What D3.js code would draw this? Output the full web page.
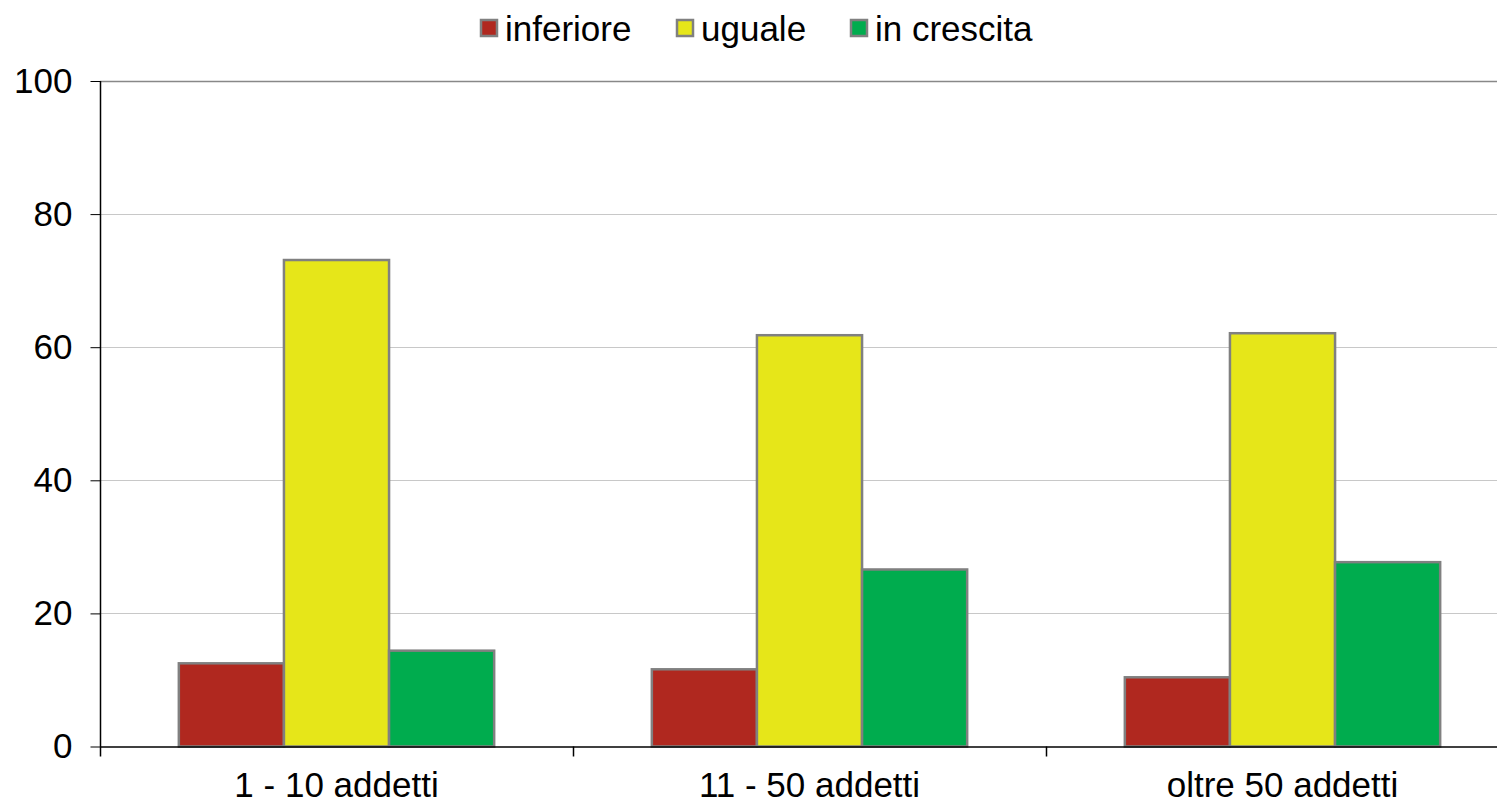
<!DOCTYPE html>
<html>
<head>
<meta charset="utf-8">
<script src="https://cdn.jsdelivr.net/npm/d3@7"></script>
<style>
  body{margin:0;background:#fff;}
  text{font-family:"Liberation Sans",Arial,sans-serif;}
</style>
</head>
<body>
<script>
const categorie=["1 - 10 addetti","11 - 50 addetti","oltre 50 addetti"];
const serie=["inferiore","uguale","in crescita"];
const inferiore=[12.5,11.6,10.4];
const uguale=[73.1,61.8,62.1];
const crescita=[14.4,26.6,27.7];
const yTicks=[0,20,40,60,80,100];
const colori=["#b0281f","#e6e619","#00ac4e"];

const valori=[inferiore,uguale,crescita];
const width=1497,height=803;
const margin={top:81,left:100,bottom:56};
const plotW=1419; // la terza categoria esce dal bordo destro
const fs=35;
const svg=d3.select("body").append("svg").attr("width",width).attr("height",height);

const x=d3.scaleBand().domain(categorie).range([margin.left,margin.left+plotW]).paddingInner(0).paddingOuter(0);
const x1=d3.scaleBand().domain(serie).range([0,x.bandwidth()]).paddingOuter(0.75);
const y=d3.scaleLinear().domain([0,100]).range([height-margin.bottom-0.5,margin.top]);

// griglia
svg.append("g").selectAll("line").data(yTicks.filter(d=>d>0)).enter().append("line")
  .attr("x1",margin.left).attr("x2",width)
  .attr("y1",d=>Math.round(y(d))+0.5).attr("y2",d=>Math.round(y(d))+0.5)
  .attr("stroke",d=>d==100?"#888":"#c8c8c8").attr("stroke-width",d=>d==100?1.5:1);

// barre
const g=svg.append("g").selectAll("g").data(categorie).enter().append("g")
  .attr("transform",d=>`translate(${x(d)},0)`);
g.selectAll("rect").data((d,i)=>serie.map((s,j)=>({s:s,v:valori[j][i],c:colori[j]}))).enter().append("rect")
  .attr("x",d=>x1(d.s)).attr("width",x1.bandwidth())
  .attr("y",d=>y(d.v)).attr("height",d=>y(0)-y(d.v))
  .attr("fill",d=>d.c).attr("stroke","#808080").attr("stroke-width",2.5);

// asse y
const yAxis=svg.append("g").attr("transform",`translate(${margin.left+0.5},0)`)
  .call(d3.axisLeft(y).tickValues(yTicks).tickSize(10).tickPadding(18));
yAxis.select(".domain").attr("d",`M0,${y(100)}V${y(0)+10}`).attr("stroke","#000").attr("stroke-width",1.5);
yAxis.selectAll(".tick line").attr("stroke","#000");
yAxis.selectAll("text").attr("font-size",fs).attr("fill","#000").style("font-family","'Liberation Sans',Arial,sans-serif");

// asse x
const xAxis=svg.append("g").attr("transform",`translate(0,${y(0)})`)
  .call(d3.axisBottom(x).tickSize(0).tickPadding(24));
xAxis.select(".domain").attr("stroke","#000").attr("stroke-width",1.5);
xAxis.selectAll("text").attr("font-size",fs).attr("fill","#000").attr("dy","0.75em").style("font-family","'Liberation Sans',Arial,sans-serif");
svg.append("g").selectAll("line").data(categorie.slice(1)).enter().append("line")
  .attr("x1",d=>x(d)+0.5).attr("x2",d=>x(d)+0.5).attr("y1",y(0)).attr("y2",y(0)+10)
  .attr("stroke","#000").attr("stroke-width",1.5);

// legenda
const legX=[481,677,851];
const leg=svg.append("g").selectAll("g").data(serie).enter().append("g")
  .attr("transform",(d,i)=>`translate(${legX[i]},20)`);
leg.append("rect").attr("width",16).attr("height",16).attr("fill",(d,i)=>colori[i]).attr("stroke","#808080").attr("stroke-width",2.5);
leg.append("text").attr("x",24).attr("y",8).attr("dy","0.36em").attr("font-size",fs).text(d=>d);
</script>
</body>
</html>
